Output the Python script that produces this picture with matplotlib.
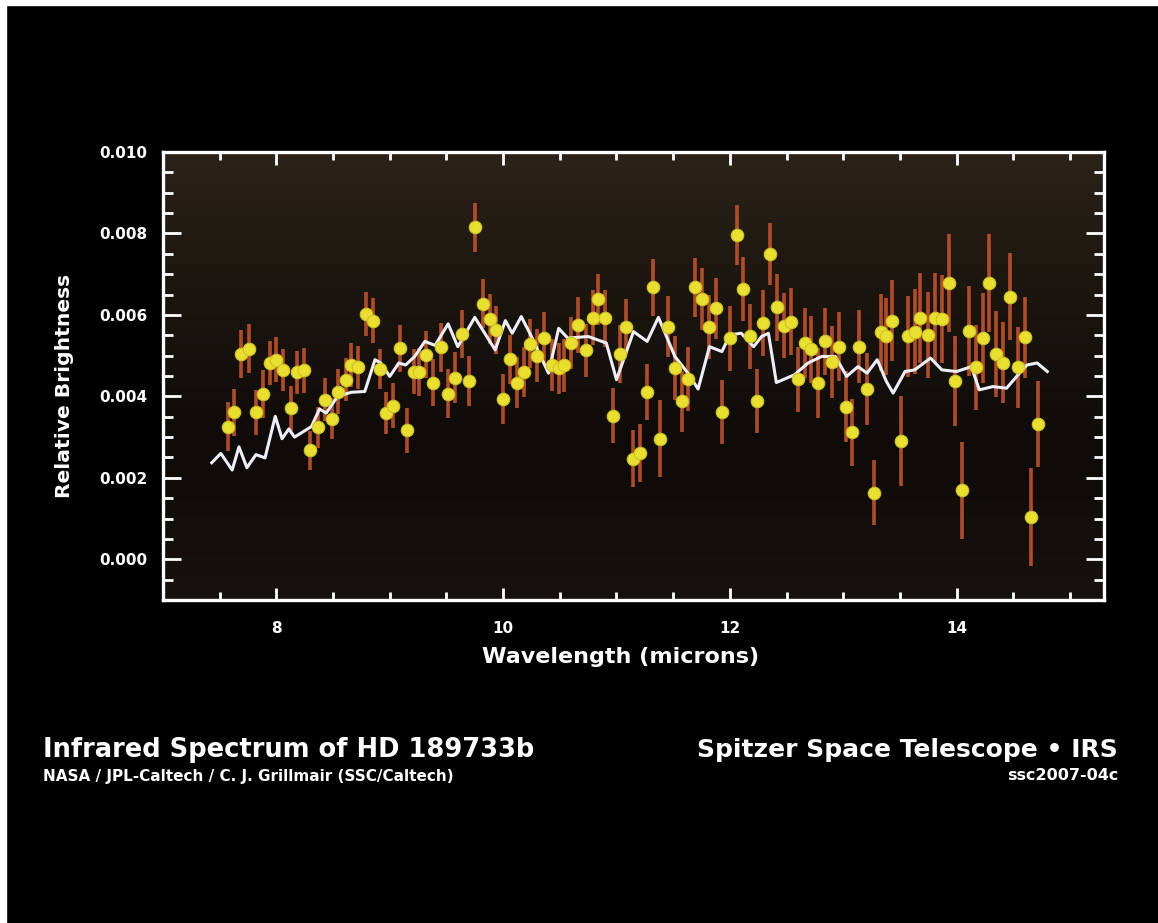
import numpy as np
import matplotlib
matplotlib.use("Agg")
from matplotlib import pyplot as plt
from matplotlib.colors import LinearSegmentedColormap
from matplotlib.patches import Rectangle
from matplotlib.ticker import MultipleLocator, FormatStrFormatter


# measured spectrum (wavelength in microns, relative brightness, 1-sigma error)
wavelength = [
    7.57, 7.63, 7.69, 7.76, 7.82, 7.88, 7.94, 8.00, 8.06, 8.13,
    8.18, 8.24, 8.30, 8.37, 8.43, 8.49, 8.54, 8.61, 8.66, 8.72,
    8.79, 8.85, 8.91, 8.97, 9.03, 9.09, 9.15, 9.21, 9.26, 9.32,
    9.38, 9.456, 9.515, 9.574, 9.638, 9.697, 9.756, 9.824, 9.883, 9.94,
    10.0, 10.06, 10.12, 10.18, 10.24, 10.30, 10.36, 10.43, 10.49, 10.54,
    10.60, 10.66, 10.73, 10.79, 10.84, 10.90, 10.97, 11.03, 11.08, 11.15,
    11.21, 11.27, 11.32, 11.38, 11.456, 11.515, 11.574, 11.633, 11.692, 11.757,
    11.816, 11.875, 11.933, 12.0, 12.06, 12.12, 12.18, 12.24, 12.29, 12.35,
    12.42, 12.48, 12.54, 12.60, 12.66, 12.72, 12.78, 12.84, 12.90, 12.96,
    13.02, 13.08, 13.14, 13.21, 13.27, 13.33, 13.38, 13.43, 13.51, 13.57,
    13.63, 13.68, 13.75, 13.81, 13.87, 13.93, 13.99, 14.05, 14.11, 14.17,
    14.23, 14.29, 14.35, 14.41, 14.47, 14.54, 14.60, 14.66, 14.72,
]
brightness = [
    0.00326, 0.00361, 0.00504, 0.00517, 0.00361, 0.00406, 0.00482, 0.00490, 0.00465, 0.00371,
    0.00459, 0.00464, 0.00268, 0.00324, 0.00392, 0.00345, 0.00411, 0.00441, 0.00477, 0.00471,
    0.00602, 0.00586, 0.00467, 0.00359, 0.00377, 0.00518, 0.00317, 0.00461, 0.00460, 0.00502,
    0.00434, 0.00520, 0.00406, 0.00446, 0.00553, 0.00438, 0.00815, 0.00627, 0.00590, 0.00563,
    0.00393, 0.00491, 0.00434, 0.00460, 0.00529, 0.00500, 0.00544, 0.00477, 0.00469, 0.00476,
    0.00531, 0.00575, 0.00513, 0.00593, 0.00638, 0.00592, 0.00353, 0.00504, 0.00571, 0.00247,
    0.00261, 0.00411, 0.00668, 0.00296, 0.00571, 0.00469, 0.00388, 0.00443, 0.00668, 0.00639,
    0.00570, 0.00616, 0.00361, 0.00543, 0.00796, 0.00664, 0.00547, 0.00388, 0.00580, 0.00749,
    0.00619, 0.00573, 0.00583, 0.00442, 0.00531, 0.00516, 0.00433, 0.00535, 0.00484, 0.00522,
    0.00375, 0.00312, 0.00522, 0.00418, 0.00163, 0.00557, 0.00547, 0.00586, 0.00290, 0.00547,
    0.00559, 0.00593, 0.00551, 0.00593, 0.00589, 0.00679, 0.00437, 0.00169, 0.00561, 0.00471,
    0.00544, 0.00679, 0.00504, 0.00483, 0.00645, 0.00471, 0.00545, 0.00104, 0.00332,
]
errors = [
    0.00060, 0.00058, 0.00060, 0.00060, 0.00055, 0.00058, 0.00055, 0.00055, 0.00052, 0.00055,
    0.00052, 0.00055, 0.00048, 0.00050, 0.00052, 0.00050, 0.00055, 0.00052, 0.00055, 0.00052,
    0.00055, 0.00055, 0.00050, 0.00052, 0.00055, 0.00058, 0.00055, 0.00055, 0.00058, 0.00058,
    0.00058, 0.00060, 0.00060, 0.00062, 0.00060, 0.00062, 0.00060, 0.00060, 0.00062, 0.00060,
    0.00062, 0.00060, 0.00062, 0.00062, 0.00060, 0.00065, 0.00062, 0.00065, 0.00062, 0.00065,
    0.00065, 0.00068, 0.00065, 0.00068, 0.00062, 0.00070, 0.00068, 0.00070, 0.00068, 0.00070,
    0.00072, 0.00068, 0.00070, 0.00095, 0.00075, 0.00078, 0.00075, 0.00078, 0.00072, 0.00075,
    0.00078, 0.00075, 0.00078, 0.00080, 0.00073, 0.00078, 0.00080, 0.00078, 0.00080, 0.00076,
    0.00082, 0.00080, 0.00082, 0.00080, 0.00085, 0.00082, 0.00085, 0.00082, 0.00088, 0.00085,
    0.00088, 0.00082, 0.00090, 0.00088, 0.00080, 0.00095, 0.00095, 0.00100, 0.00110, 0.00100,
    0.00105, 0.00110, 0.00105, 0.00110, 0.00108, 0.00120, 0.00110, 0.00120, 0.00110, 0.00105,
    0.00110, 0.00120, 0.00105, 0.00100, 0.00106, 0.00100, 0.00100, 0.00120, 0.00106,
]

# model spectrum (white line)
model_wl = [
    7.43, 7.51, 7.61, 7.67, 7.74, 7.82, 7.90, 7.99, 8.05, 8.11,
    8.16, 8.31, 8.38, 8.44, 8.54, 8.66, 8.78, 8.87, 8.92, 9.00,
    9.08, 9.14, 9.22, 9.31, 9.40, 9.515, 9.60, 9.75, 9.93, 10.02,
    10.08, 10.16, 10.25, 10.40, 10.49, 10.57, 10.75, 10.91, 11.00, 11.15,
    11.27, 11.37, 11.515, 11.63, 11.72, 11.82, 11.93, 12.00, 12.10, 12.21,
    12.28, 12.34, 12.41, 12.57, 12.69, 12.81, 12.93, 13.03, 13.13, 13.21,
    13.30, 13.38, 13.44, 13.545, 13.63, 13.77, 13.87, 14.00, 14.13, 14.20,
    14.32, 14.44, 14.53, 14.62, 14.71, 14.80,
]
model_flux = [
    0.00237, 0.00260, 0.00219, 0.00276, 0.00225, 0.00257, 0.00249, 0.00351, 0.00296, 0.00320,
    0.00300, 0.00326, 0.00369, 0.00359, 0.00400, 0.00410, 0.00412, 0.00490, 0.00482, 0.00449,
    0.00482, 0.00477, 0.00498, 0.00535, 0.00525, 0.00578, 0.00522, 0.00594, 0.00514, 0.00586,
    0.00555, 0.00596, 0.00547, 0.00457, 0.00567, 0.00543, 0.00547, 0.00531, 0.00441, 0.00559,
    0.00535, 0.00594, 0.00498, 0.00457, 0.00418, 0.00522, 0.00510, 0.00551, 0.00555, 0.00522,
    0.00547, 0.00555, 0.00434, 0.00453, 0.00482, 0.00498, 0.00498, 0.00449, 0.00473, 0.00457,
    0.00490, 0.00437, 0.00408, 0.00461, 0.00465, 0.00494, 0.00465, 0.00461, 0.00473, 0.00416,
    0.00424, 0.00420, 0.00449, 0.00477, 0.00482, 0.00461,
]


W, H = 1158, 923
fig = plt.figure(figsize=(W / 100, H / 100), dpi=100, facecolor='black')
# thin white edge at top and left of the slide
fig.add_artist(Rectangle((0, 1 - 5 / H), 1, 5 / H, transform=fig.transFigure, color='white'))
fig.add_artist(Rectangle((0, 0), 6 / W, 1, transform=fig.transFigure, color='white'))

ax = fig.add_axes([163 / W, 1 - 600 / H, (1104 - 163) / W, (600 - 152) / H])

# dark brown gradient behind the data
bg = LinearSegmentedColormap.from_list('bg', ['#17120d', '#0e0b08', '#1a150f', '#2c231a'])
grad = np.linspace(0, 1, 256).reshape(-1, 1)
ax.imshow(grad, extent=[0, 1, 0, 1], transform=ax.transAxes, origin='lower',
          aspect='auto', cmap=bg, zorder=0)

ax.errorbar(wavelength, brightness, yerr=errors, fmt='none', ecolor='#c4532a',
            elinewidth=2.6, capsize=0, zorder=2, alpha=0.9)
ax.plot(model_wl, model_flux, color='#eeeefa', linewidth=2.2, zorder=3)
ax.plot(wavelength, brightness, 'o', color='#e9df2e', markeredgecolor='#cfc41f',
        markersize=9, markeredgewidth=0.8, zorder=4)

ax.set_xlim(7.0, 15.3)
ax.set_ylim(-0.001, 0.010)

ax.xaxis.set_major_locator(MultipleLocator(2))
ax.xaxis.set_minor_locator(MultipleLocator(0.5))
ax.yaxis.set_major_locator(MultipleLocator(0.002))
ax.yaxis.set_minor_locator(MultipleLocator(0.0005))
ax.yaxis.set_major_formatter(FormatStrFormatter('%.3f'))

for s in ax.spines.values():
    s.set_color('white')
    s.set_linewidth(2.4)

ax.tick_params(which='both', direction='in', top=True, right=True,
               color='white', width=2, labelcolor='white', labelsize=11)
ax.tick_params(axis='y', which='major', length=13, pad=11)
ax.tick_params(axis='y', which='minor', length=7)
ax.tick_params(axis='x', which='major', length=9, pad=15)
ax.tick_params(axis='x', which='minor', length=6)
for lab in ax.get_xticklabels() + ax.get_yticklabels():
    lab.set_fontweight('bold')

ax.set_xlabel('Wavelength (microns)', color='white', fontsize=16, fontweight='bold')
ax.set_ylabel('Relative Brightness', color='white', fontsize=14.6, fontweight='bold')
ax.xaxis.set_label_coords(0.486, -0.105)
ax.yaxis.set_label_coords(-0.095, 0.478)

fig.text(43 / W, 1 - 750 / H, 'Infrared Spectrum of HD 189733b', color='white',
         fontsize=18.5, fontweight='bold', ha='left', va='center')
fig.text(43 / W, 1 - 776 / H, 'NASA / JPL-Caltech / C. J. Grillmair (SSC/Caltech)',
         color='white', fontsize=11, fontweight='bold', ha='left', va='center')
fig.text(1118 / W, 1 - 750 / H, 'Spitzer Space Telescope \u2022 IRS', color='white',
         fontsize=18, fontweight='bold', ha='right', va='center')
fig.text(1118 / W, 1 - 776 / H, 'ssc2007-04c', color='white',
         fontsize=11.5, fontweight='bold', ha='right', va='center')

fig.savefig('out.png', dpi=100, facecolor=fig.get_facecolor())
